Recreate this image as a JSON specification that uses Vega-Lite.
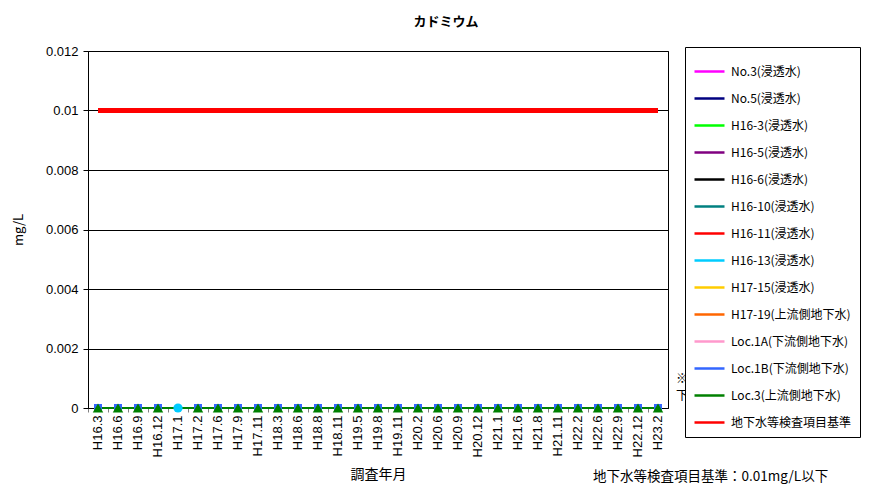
{
  "$schema": "https://vega.github.io/schema/vega-lite/v6.json",
  "width": 580,
  "height": 357,
  "autosize": {"type": "none"},
  "padding": {"left": 88, "top": 51, "right": 205, "bottom": 79},
  "background": "white",
  "title": {"text": "カドミウム", "font": "Noto Sans CJK JP", "fontSize": 13, "fontWeight": "bold", "anchor": "middle", "dx": 68, "offset": 16, "color": "black"},
  "data": {"values": [
    {"d":"H16.3","s":"Loc.1A(下流側地下水)","v":0},{"d":"H16.6","s":"Loc.1A(下流側地下水)","v":0},{"d":"H16.9","s":"Loc.1A(下流側地下水)","v":0},{"d":"H16.12","s":"Loc.1A(下流側地下水)","v":0},{"d":"H17.2","s":"Loc.1A(下流側地下水)","v":0},{"d":"H17.6","s":"Loc.1A(下流側地下水)","v":0},{"d":"H17.9","s":"Loc.1A(下流側地下水)","v":0},{"d":"H17.11","s":"Loc.1A(下流側地下水)","v":0},{"d":"H18.3","s":"Loc.1A(下流側地下水)","v":0},{"d":"H18.6","s":"Loc.1A(下流側地下水)","v":0},{"d":"H18.8","s":"Loc.1A(下流側地下水)","v":0},{"d":"H18.11","s":"Loc.1A(下流側地下水)","v":0},{"d":"H19.5","s":"Loc.1A(下流側地下水)","v":0},{"d":"H19.8","s":"Loc.1A(下流側地下水)","v":0},{"d":"H19.11","s":"Loc.1A(下流側地下水)","v":0},{"d":"H20.2","s":"Loc.1A(下流側地下水)","v":0},{"d":"H20.6","s":"Loc.1A(下流側地下水)","v":0},{"d":"H20.9","s":"Loc.1A(下流側地下水)","v":0},{"d":"H20.12","s":"Loc.1A(下流側地下水)","v":0},{"d":"H21.1","s":"Loc.1A(下流側地下水)","v":0},{"d":"H21.6","s":"Loc.1A(下流側地下水)","v":0},{"d":"H21.8","s":"Loc.1A(下流側地下水)","v":0},{"d":"H21.11","s":"Loc.1A(下流側地下水)","v":0},{"d":"H22.2","s":"Loc.1A(下流側地下水)","v":0},{"d":"H22.6","s":"Loc.1A(下流側地下水)","v":0},{"d":"H22.9","s":"Loc.1A(下流側地下水)","v":0},{"d":"H22.12","s":"Loc.1A(下流側地下水)","v":0},{"d":"H23.2","s":"Loc.1A(下流側地下水)","v":0},
    {"d":"H16.3","s":"Loc.1B(下流側地下水)","v":0},{"d":"H16.6","s":"Loc.1B(下流側地下水)","v":0},{"d":"H16.9","s":"Loc.1B(下流側地下水)","v":0},{"d":"H16.12","s":"Loc.1B(下流側地下水)","v":0},{"d":"H17.2","s":"Loc.1B(下流側地下水)","v":0},{"d":"H17.6","s":"Loc.1B(下流側地下水)","v":0},{"d":"H17.9","s":"Loc.1B(下流側地下水)","v":0},{"d":"H17.11","s":"Loc.1B(下流側地下水)","v":0},{"d":"H18.3","s":"Loc.1B(下流側地下水)","v":0},{"d":"H18.6","s":"Loc.1B(下流側地下水)","v":0},{"d":"H18.8","s":"Loc.1B(下流側地下水)","v":0},{"d":"H18.11","s":"Loc.1B(下流側地下水)","v":0},{"d":"H19.5","s":"Loc.1B(下流側地下水)","v":0},{"d":"H19.8","s":"Loc.1B(下流側地下水)","v":0},{"d":"H19.11","s":"Loc.1B(下流側地下水)","v":0},{"d":"H20.2","s":"Loc.1B(下流側地下水)","v":0},{"d":"H20.6","s":"Loc.1B(下流側地下水)","v":0},{"d":"H20.9","s":"Loc.1B(下流側地下水)","v":0},{"d":"H20.12","s":"Loc.1B(下流側地下水)","v":0},{"d":"H21.1","s":"Loc.1B(下流側地下水)","v":0},{"d":"H21.6","s":"Loc.1B(下流側地下水)","v":0},{"d":"H21.8","s":"Loc.1B(下流側地下水)","v":0},{"d":"H21.11","s":"Loc.1B(下流側地下水)","v":0},{"d":"H22.2","s":"Loc.1B(下流側地下水)","v":0},{"d":"H22.6","s":"Loc.1B(下流側地下水)","v":0},{"d":"H22.9","s":"Loc.1B(下流側地下水)","v":0},{"d":"H22.12","s":"Loc.1B(下流側地下水)","v":0},{"d":"H23.2","s":"Loc.1B(下流側地下水)","v":0},
    {"d":"H16.3","s":"Loc.3(上流側地下水)","v":0},{"d":"H16.6","s":"Loc.3(上流側地下水)","v":0},{"d":"H16.9","s":"Loc.3(上流側地下水)","v":0},{"d":"H16.12","s":"Loc.3(上流側地下水)","v":0},{"d":"H17.2","s":"Loc.3(上流側地下水)","v":0},{"d":"H17.6","s":"Loc.3(上流側地下水)","v":0},{"d":"H17.9","s":"Loc.3(上流側地下水)","v":0},{"d":"H17.11","s":"Loc.3(上流側地下水)","v":0},{"d":"H18.3","s":"Loc.3(上流側地下水)","v":0},{"d":"H18.6","s":"Loc.3(上流側地下水)","v":0},{"d":"H18.8","s":"Loc.3(上流側地下水)","v":0},{"d":"H18.11","s":"Loc.3(上流側地下水)","v":0},{"d":"H19.5","s":"Loc.3(上流側地下水)","v":0},{"d":"H19.8","s":"Loc.3(上流側地下水)","v":0},{"d":"H19.11","s":"Loc.3(上流側地下水)","v":0},{"d":"H20.2","s":"Loc.3(上流側地下水)","v":0},{"d":"H20.6","s":"Loc.3(上流側地下水)","v":0},{"d":"H20.9","s":"Loc.3(上流側地下水)","v":0},{"d":"H20.12","s":"Loc.3(上流側地下水)","v":0},{"d":"H21.1","s":"Loc.3(上流側地下水)","v":0},{"d":"H21.6","s":"Loc.3(上流側地下水)","v":0},{"d":"H21.8","s":"Loc.3(上流側地下水)","v":0},{"d":"H21.11","s":"Loc.3(上流側地下水)","v":0},{"d":"H22.2","s":"Loc.3(上流側地下水)","v":0},{"d":"H22.6","s":"Loc.3(上流側地下水)","v":0},{"d":"H22.9","s":"Loc.3(上流側地下水)","v":0},{"d":"H22.12","s":"Loc.3(上流側地下水)","v":0},{"d":"H23.2","s":"Loc.3(上流側地下水)","v":0},
    {"d":"H17.1","s":"H16-13(浸透水)","v":0},
    {"d":"H16.3","s":"地下水等検査項目基準","v":0.01},{"d":"H16.6","s":"地下水等検査項目基準","v":0.01},{"d":"H16.9","s":"地下水等検査項目基準","v":0.01},{"d":"H16.12","s":"地下水等検査項目基準","v":0.01},{"d":"H17.1","s":"地下水等検査項目基準","v":0.01},{"d":"H17.2","s":"地下水等検査項目基準","v":0.01},{"d":"H17.6","s":"地下水等検査項目基準","v":0.01},{"d":"H17.9","s":"地下水等検査項目基準","v":0.01},{"d":"H17.11","s":"地下水等検査項目基準","v":0.01},{"d":"H18.3","s":"地下水等検査項目基準","v":0.01},{"d":"H18.6","s":"地下水等検査項目基準","v":0.01},{"d":"H18.8","s":"地下水等検査項目基準","v":0.01},{"d":"H18.11","s":"地下水等検査項目基準","v":0.01},{"d":"H19.5","s":"地下水等検査項目基準","v":0.01},{"d":"H19.8","s":"地下水等検査項目基準","v":0.01},{"d":"H19.11","s":"地下水等検査項目基準","v":0.01},{"d":"H20.2","s":"地下水等検査項目基準","v":0.01},{"d":"H20.6","s":"地下水等検査項目基準","v":0.01},{"d":"H20.9","s":"地下水等検査項目基準","v":0.01},{"d":"H20.12","s":"地下水等検査項目基準","v":0.01},{"d":"H21.1","s":"地下水等検査項目基準","v":0.01},{"d":"H21.6","s":"地下水等検査項目基準","v":0.01},{"d":"H21.8","s":"地下水等検査項目基準","v":0.01},{"d":"H21.11","s":"地下水等検査項目基準","v":0.01},{"d":"H22.2","s":"地下水等検査項目基準","v":0.01},{"d":"H22.6","s":"地下水等検査項目基準","v":0.01},{"d":"H22.9","s":"地下水等検査項目基準","v":0.01},{"d":"H22.12","s":"地下水等検査項目基準","v":0.01},{"d":"H23.2","s":"地下水等検査項目基準","v":0.01}
  ]},
  "layer": [
    {
      "encoding": {
        "x": {"field": "d", "type": "nominal", "sort": null,
          "scale": {"type": "band", "paddingInner": 0, "paddingOuter": 0,
            "domain": ["H16.3","H16.6","H16.9","H16.12","H17.1","H17.2","H17.6","H17.9","H17.11","H18.3","H18.6","H18.8","H18.11","H19.5","H19.8","H19.11","H20.2","H20.6","H20.9","H20.12","H21.1","H21.6","H21.8","H21.11","H22.2","H22.6","H22.9","H22.12","H23.2"]},
          "axis": {"title": "調査年月", "titleFont": "Noto Sans CJK JP", "titleFontSize": 14, "titleFontWeight": "normal", "titleColor": "black", "titleY": 66, "titleBaseline": "middle",
            "labelAngle": -90, "labelFont": "Liberation Sans", "labelFontSize": 13, "labelColor": "black", "labelPadding": 3,
            "bandPosition": 0, "tickSize": 4, "tickColor": "#808080", "domainColor": "black", "grid": false, "labelOverlap": false}},
        "y": {"field": "v", "type": "quantitative",
          "scale": {"domain": [0, 0.012], "nice": false, "zero": true},
          "axis": {"title": "mg/L", "titleFont": "Noto Sans CJK JP", "titleFontSize": 13, "titleFontWeight": "normal", "titleColor": "black", "titleX": -70, "titleY": 178.5, "titleAngle": -90, "titleBaseline": "middle", "titleAlign": "center",
            "values": [0, 0.002, 0.004, 0.006, 0.008, 0.01, 0.012], "format": "~g",
            "labelFont": "Liberation Sans", "labelFontSize": 13, "labelColor": "black", "labelPadding": 5,
            "tickSize": 5, "tickColor": "black", "domainColor": "black", "grid": true, "gridColor": "black", "gridOpacity": 1}}
      },
      "layer": [
        {
          "transform": [{"filter": "datum.s !== '地下水等検査項目基準'"}],
          "mark": {"type": "line", "strokeWidth": 2},
          "encoding": {
            "color": {"field": "s", "type": "nominal",
              "legend": {"title": null, "orient": "none", "legendX": 597, "legendY": -4, "symbolType": "stroke", "symbolSize": 900, "symbolStrokeWidth": 2.5, "rowPadding": 4, "labelOffset": 5},
              "scale": {"domain": ["No.3(浸透水)","No.5(浸透水)","H16-3(浸透水)","H16-5(浸透水)","H16-6(浸透水)","H16-10(浸透水)","H16-11(浸透水)","H16-13(浸透水)","H17-15(浸透水)","H17-19(上流側地下水)","Loc.1A(下流側地下水)","Loc.1B(下流側地下水)","Loc.3(上流側地下水)","地下水等検査項目基準"],
                "range": ["#FF00FF","#000080","#00FF00","#800080","#000000","#008080","#FF0000","#00CCFF","#FFCC00","#FF6600","#FF99CC","#3366FF","#008000","#FF0000"]}}
          }
        },
        {
          "transform": [{"filter": "datum.s === '地下水等検査項目基準'"}],
          "mark": {"type": "line", "strokeWidth": 5, "color": "#FF0000"},
          "encoding": {}
        },
        {
          "transform": [{"filter": "datum.s === 'Loc.1A(下流側地下水)' || datum.s === 'Loc.1B(下流側地下水)'"}],
          "mark": {"type": "point", "filled": true, "shape": "square", "size": 64, "opacity": 1},
          "encoding": {"color": {"field": "s", "type": "nominal", "legend": null}}
        },
        {
          "transform": [{"filter": "datum.s === 'Loc.3(上流側地下水)'"}],
          "mark": {"type": "point", "filled": true, "shape": "triangle-up", "size": 110, "opacity": 1},
          "encoding": {"color": {"field": "s", "type": "nominal", "legend": null}}
        },
        {
          "transform": [{"filter": "datum.s === 'H16-13(浸透水)'"}],
          "mark": {"type": "point", "filled": true, "shape": "circle", "size": 85, "opacity": 1},
          "encoding": {"color": {"field": "s", "type": "nominal", "legend": null}}
        }
      ]
    },
    {
      "data": {"values": [{"note": "a"}]},
      "mark": {"type": "text", "align": "left", "baseline": "middle", "dx": 18, "dy": -29, "font": "Noto Sans CJK JP", "fontSize": 12.5, "color": "black"},
      "encoding": {"x": {"datum": "H23.2", "type": "nominal"}, "y": {"datum": 0, "type": "quantitative"}, "text": {"value": "※0にプロットされた数値は定量"}}
    },
    {
      "data": {"values": [{"note": "b"}]},
      "mark": {"type": "text", "align": "left", "baseline": "middle", "dx": 18, "dy": -12, "font": "Noto Sans CJK JP", "fontSize": 12.5, "color": "black"},
      "encoding": {"x": {"datum": "H23.2", "type": "nominal"}, "y": {"datum": 0, "type": "quantitative"}, "text": {"value": "下限値未満"}}
    },
    {
      "data": {"values": [{"note": "c"}]},
      "mark": {"type": "text", "align": "left", "baseline": "middle", "dx": -65, "dy": 69, "font": "Noto Sans CJK JP", "fontSize": 13.5, "color": "black"},
      "encoding": {"x": {"datum": "H23.2", "type": "nominal"}, "y": {"datum": 0, "type": "quantitative"}, "text": {"value": "地下水等検査項目基準：0.01mg/L以下"}}
    }
  ],
  "config": {
    "view": {"stroke": "black", "strokeWidth": 1},
    "legend": {"padding": 8, "strokeColor": "black", "fillColor": "white",
      "labelFont": "Noto Sans CJK JP", "labelFontSize": 12, "labelColor": "black", "labelLimit": 300}
  }
}
